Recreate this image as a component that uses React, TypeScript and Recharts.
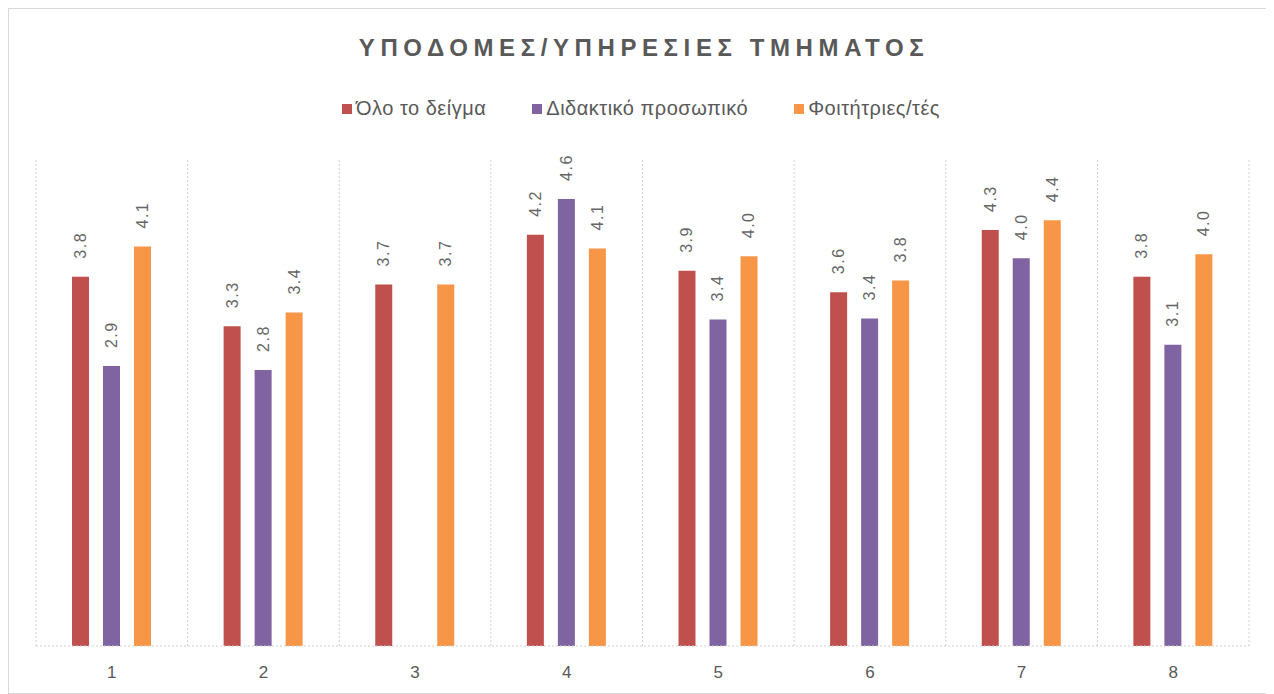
import React from 'react';
import { BarChart, Bar, XAxis, YAxis, CartesianGrid, LabelList } from 'recharts';

const categories = ['1', '2', '3', '4', '5', '6', '7', '8'];
const allSample = [3.8, 3.29, 3.72, 4.23, 3.86, 3.64, 4.28, 3.8];
const faculty = [2.88, 2.84, null, 4.6, 3.36, 3.37, 3.99, 3.1];
const students = [4.11, 3.43, 3.72, 4.09, 4.01, 3.76, 4.38, 4.03];

const seriesNames = ['Όλο το δείγμα', 'Διδακτικό προσωπικό', 'Φοιτήτριες/τές'];
const colors = ['#C0504D', '#8064A2', '#F79646'];

const chartData = categories.map((name, i) => ({
  name,
  s0: allSample[i],
  s1: faculty[i],
  s2: students[i],
}));

const FONT = '"Liberation Sans", Arial, sans-serif';

const RotatedLabel = (props: any) => {
  const { x, y, width, value } = props;
  if (value === null || value === undefined) return null;
  const cx = x + width / 2;
  const ty = y - 18;
  return (
    <text
      x={cx}
      y={ty}
      transform={`rotate(-90, ${cx}, ${ty})`}
      textAnchor="start"
      dominantBaseline="central"
      fill="#666"
      fontSize={16}
      letterSpacing={1.5}
      fontFamily={FONT}
    >
      {Number(value).toFixed(1)}
    </text>
  );
};

export default function App() {
  const W = 1264;
  const H = 684;
  return (
    <div style={{ position: 'relative', width: W, height: H, border: '1px solid #d9d9d9', fontFamily: FONT }}>
      <div
        style={{
          position: 'absolute',
          top: 25,
          left: 0,
          width: W,
          paddingLeft: 6,
          boxSizing: 'border-box',
          textAlign: 'center',
          fontSize: 24,
          fontWeight: 'bold',
          letterSpacing: 5.6,
          color: '#595959',
        }}
      >
        ΥΠΟΔΟΜΕΣ/ΥΠΗΡΕΣΙΕΣ ΤΜΗΜΑΤΟΣ
      </div>
      <div
        style={{
          position: 'absolute',
          top: 88,
          left: 0,
          width: W,
          display: 'flex',
          justifyContent: 'center',
          gap: 46,
          fontSize: 20,
          letterSpacing: 0.5,
          color: '#595959',
        }}
      >
        {seriesNames.map((n, i) => (
          <div key={n} style={{ display: 'flex', alignItems: 'center' }}>
            <span style={{ width: 10, height: 10, background: colors[i], display: 'inline-block', marginRight: 4 }} />
            <span>{n}</span>
          </div>
        ))}
      </div>
      <BarChart
        width={W}
        height={H}
        data={chartData}
        margin={{ top: 151, right: 24, left: 27, bottom: 17 }}
        barSize={17}
        barGap={14}
      >
        <CartesianGrid
          horizontal={false}
          stroke="#d0d0d0"
          strokeDasharray="2 2"
          verticalCoordinatesGenerator={({ offset }: any) =>
            Array.from({ length: categories.length + 1 }, (_, i) => offset.left + (i * offset.width) / categories.length)
          }
        />
        <XAxis
          dataKey="name"
          axisLine={{ stroke: '#d0d0d0', strokeDasharray: '2 2' }}
          tickLine={false}
          tickMargin={14}
          tick={{ fill: '#595959', fontSize: 17, fontFamily: FONT }}
        />
        <YAxis hide domain={[0, 5]} />
        {['s0', 's1', 's2'].map((k, i) => (
          <Bar key={k} dataKey={k} name={seriesNames[i]} fill={colors[i]} isAnimationActive={false}>
            <LabelList dataKey={k} content={RotatedLabel} />
          </Bar>
        ))}
      </BarChart>
    </div>
  );
}
